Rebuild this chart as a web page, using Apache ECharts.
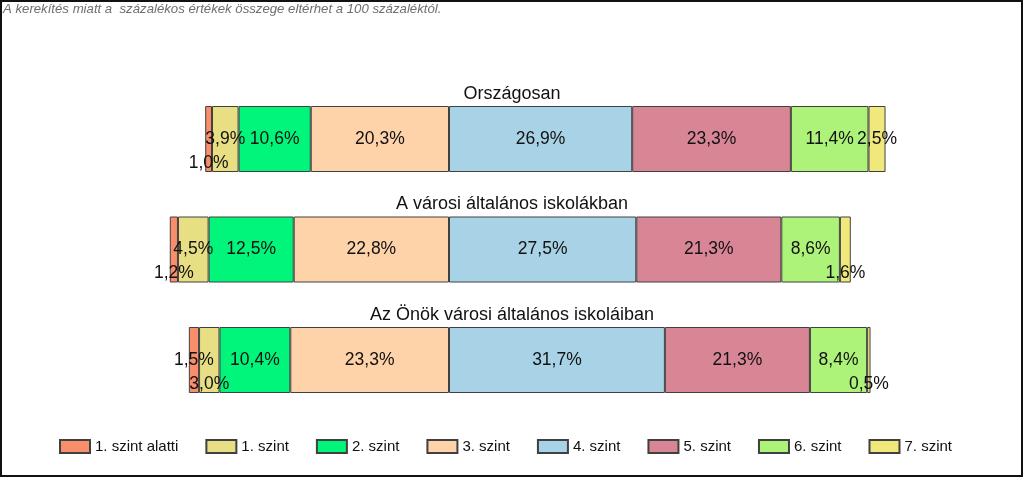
<!DOCTYPE html>
<html>
<head>
<meta charset="utf-8">
<script src="https://cdn.jsdelivr.net/npm/echarts@6/dist/echarts.min.js"></script>
<style>
html,body{margin:0;padding:0;background:#fff;}
#c{width:1024px;height:478px;}
</style>
</head>
<body>
<div id="c"></div>
<script>
// ---- data ----
var groups = ['Országosan', 'A városi általános iskolákban', 'Az Önök városi általános iskoláiban'];
var levels = ['1. szint alatti', '1. szint', '2. szint', '3. szint', '4. szint', '5. szint', '6. szint', '7. szint'];
var below1 = [1.0, 1.2, 1.5];
var level1 = [3.9, 4.5, 3.0];
var level2 = [10.6, 12.5, 10.4];
var level3 = [20.3, 22.8, 23.3];
var level4 = [26.9, 27.5, 31.7];
var level5 = [23.3, 21.3, 21.3];
var level6 = [11.4, 8.6, 8.4];
var level7 = [2.5, 1.6, 0.5];
var note = 'A kerekítés miatt a  százalékos értékek összege eltérhet a 100 százaléktól.';

// ---- styles ----
var colors = {
  '1. szint alatti': '#F98E6C',
  '1. szint': '#E8DE84',
  '2. szint': '#00F57A',
  '3. szint': '#FFD3A9',
  '4. szint': '#A8D3E6',
  '5. szint': '#D88596',
  '6. szint': '#ADF37A',
  '7. szint': '#F0E87A'
};
// labels pushed below the bar centre to avoid overlaps: level -> group indices
var lowered = {'1. szint alatti': [0, 1], '1. szint': [2], '7. szint': [1, 2]};
var FONT = '"Liberation Sans", Arial, sans-serif';

var valuesByLevel = {
  '1. szint alatti': below1, '1. szint': level1, '2. szint': level2, '3. szint': level3,
  '4. szint': level4, '5. szint': level5, '6. szint': level6, '7. szint': level7
};
var negLevels = {'1. szint alatti': 1, '1. szint': 1, '2. szint': 1, '3. szint': 1};
// stacking order: levels adjacent to zero first
var order = ['3. szint', '2. szint', '1. szint', '1. szint alatti', '4. szint', '5. szint', '6. szint', '7. szint'];

function fmt(v) { return Math.abs(v).toFixed(1).replace('.', ',') + '%'; }

var series = order.map(function (name) {
  var sign = negLevels[name] ? -1 : 1;
  var low = lowered[name] || [];
  return {
    name: name,
    type: 'bar',
    stack: 'total',
    barWidth: 66,
    itemStyle: { color: colors[name], borderColor: '#404040', borderWidth: 1 },
    label: {
      show: true, position: 'inside', color: '#111', fontSize: 17.5, fontFamily: FONT,
      formatter: function (p) { return fmt(p.value); }
    },
    data: valuesByLevel[name].map(function (v, i) {
      var d = { value: sign * v };
      if (low.indexOf(i) >= 0) d.label = { offset: [0, 24] };
      return d;
    })
  };
});

var chart = echarts.init(document.getElementById('c'), null, { renderer: 'canvas' });
var option = {
  animation: false,
  backgroundColor: '#fff',
  textStyle: { fontFamily: FONT },
  grid: { left: 40.4, right: 98.3, top: 83.75, bottom: 62.75 },
  xAxis: { type: 'value', min: -60, max: 70, show: false },
  yAxis: { type: 'category', data: groups, inverse: true, show: false },
  legend: {
    data: levels, left: 54, top: 434, itemWidth: 30, itemHeight: 13, itemGap: 27,
    textStyle: { fontSize: 15, color: '#111', fontFamily: FONT },
    icon: 'rect'
  },
  graphic: [
    { type: 'rect', shape: { x: 1, y: 1, width: 1021, height: 475 }, style: { fill: 'none', stroke: '#111', lineWidth: 2 }, silent: true },
    { type: 'text', left: 3, top: 3, style: { text: note, fill: '#6e6e6e', font: 'italic 13.2px ' + FONT } }
  ],
  series: series
};
chart.setOption(option);

// group titles above each bar
var titles = groups.map(function (g, i) {
  var cy = chart.convertToPixel({ yAxisIndex: 0 }, i);
  return { text: g, left: 'center', top: cy - 59, textStyle: { fontSize: 18, fontWeight: 'normal', color: '#111', fontFamily: FONT } };
});
chart.setOption({ title: titles });
</script>
</body>
</html>
